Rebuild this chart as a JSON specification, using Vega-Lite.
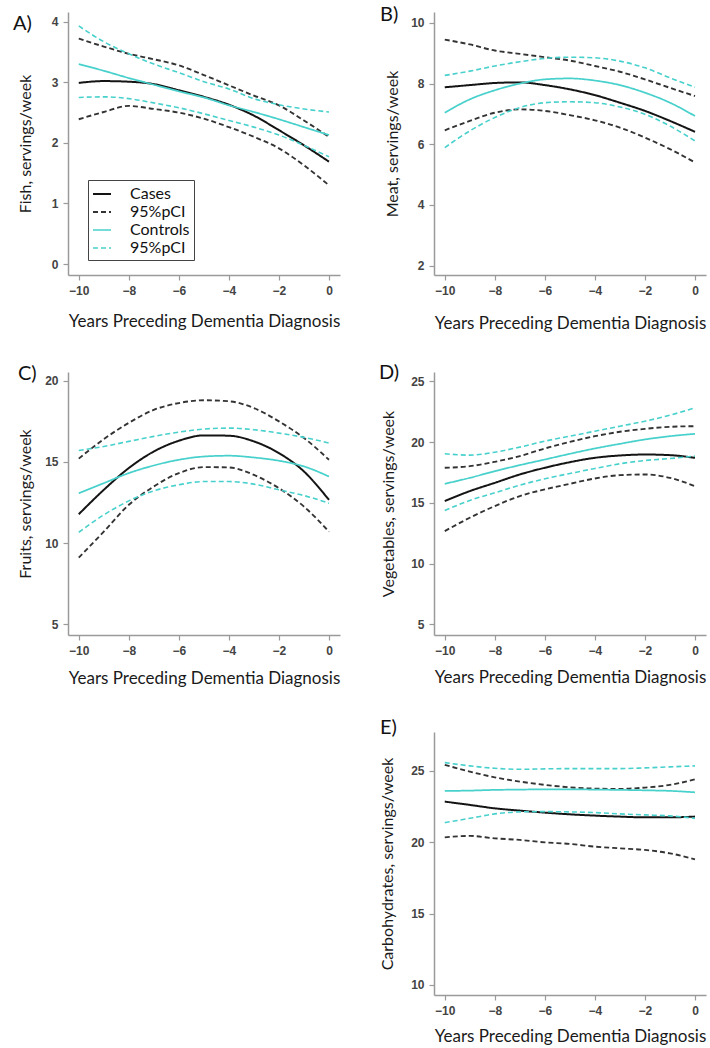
{
  "$schema": "https://vega.github.io/schema/vega-lite/v6.json",
  "background": "white",
  "padding": {"left": 13, "top": 5, "right": 5, "bottom": 5},
  "datasets": {
    "d": [
      {"p":"A","g":"Cases","b":"m","x":-10,"v":2.99},{"p":"A","g":"Cases","b":"m","x":-9,"v":3.02},{"p":"A","g":"Cases","b":"m","x":-8,"v":3.01},{"p":"A","g":"Cases","b":"m","x":-7,"v":2.97},{"p":"A","g":"Cases","b":"m","x":-6,"v":2.87},{"p":"A","g":"Cases","b":"m","x":-5,"v":2.76},{"p":"A","g":"Cases","b":"m","x":-4,"v":2.63},{"p":"A","g":"Cases","b":"m","x":-3,"v":2.45},{"p":"A","g":"Cases","b":"m","x":-2,"v":2.21},{"p":"A","g":"Cases","b":"m","x":-1,"v":1.96},{"p":"A","g":"Cases","b":"m","x":0,"v":1.69},
      {"p":"A","g":"Cases CI","b":"u","x":-10,"v":3.72},{"p":"A","g":"Cases CI","b":"u","x":-9,"v":3.59},{"p":"A","g":"Cases CI","b":"u","x":-8,"v":3.47},{"p":"A","g":"Cases CI","b":"u","x":-7,"v":3.38},{"p":"A","g":"Cases CI","b":"u","x":-6,"v":3.28},{"p":"A","g":"Cases CI","b":"u","x":-5,"v":3.12},{"p":"A","g":"Cases CI","b":"u","x":-4,"v":2.95},{"p":"A","g":"Cases CI","b":"u","x":-3,"v":2.78},{"p":"A","g":"Cases CI","b":"u","x":-2,"v":2.62},{"p":"A","g":"Cases CI","b":"u","x":-1,"v":2.37},{"p":"A","g":"Cases CI","b":"u","x":0,"v":2.1},
      {"p":"A","g":"Cases CI","b":"l","x":-10,"v":2.39},{"p":"A","g":"Cases CI","b":"l","x":-9,"v":2.51},{"p":"A","g":"Cases CI","b":"l","x":-8,"v":2.61},{"p":"A","g":"Cases CI","b":"l","x":-7,"v":2.56},{"p":"A","g":"Cases CI","b":"l","x":-6,"v":2.5},{"p":"A","g":"Cases CI","b":"l","x":-5,"v":2.4},{"p":"A","g":"Cases CI","b":"l","x":-4,"v":2.26},{"p":"A","g":"Cases CI","b":"l","x":-3,"v":2.1},{"p":"A","g":"Cases CI","b":"l","x":-2,"v":1.91},{"p":"A","g":"Cases CI","b":"l","x":-1,"v":1.63},{"p":"A","g":"Cases CI","b":"l","x":0,"v":1.3},
      {"p":"A","g":"Controls","b":"m","x":-10,"v":3.3},{"p":"A","g":"Controls","b":"m","x":-9,"v":3.19},{"p":"A","g":"Controls","b":"m","x":-8,"v":3.07},{"p":"A","g":"Controls","b":"m","x":-7,"v":2.96},{"p":"A","g":"Controls","b":"m","x":-6,"v":2.85},{"p":"A","g":"Controls","b":"m","x":-5,"v":2.75},{"p":"A","g":"Controls","b":"m","x":-4,"v":2.62},{"p":"A","g":"Controls","b":"m","x":-3,"v":2.51},{"p":"A","g":"Controls","b":"m","x":-2,"v":2.39},{"p":"A","g":"Controls","b":"m","x":-1,"v":2.26},{"p":"A","g":"Controls","b":"m","x":0,"v":2.13},
      {"p":"A","g":"Controls CI","b":"u","x":-10,"v":3.93},{"p":"A","g":"Controls CI","b":"u","x":-9,"v":3.67},{"p":"A","g":"Controls CI","b":"u","x":-8,"v":3.47},{"p":"A","g":"Controls CI","b":"u","x":-7,"v":3.3},{"p":"A","g":"Controls CI","b":"u","x":-6,"v":3.16},{"p":"A","g":"Controls CI","b":"u","x":-5,"v":3.01},{"p":"A","g":"Controls CI","b":"u","x":-4,"v":2.89},{"p":"A","g":"Controls CI","b":"u","x":-3,"v":2.73},{"p":"A","g":"Controls CI","b":"u","x":-2,"v":2.63},{"p":"A","g":"Controls CI","b":"u","x":-1,"v":2.56},{"p":"A","g":"Controls CI","b":"u","x":0,"v":2.51},
      {"p":"A","g":"Controls CI","b":"l","x":-10,"v":2.75},{"p":"A","g":"Controls CI","b":"l","x":-9,"v":2.76},{"p":"A","g":"Controls CI","b":"l","x":-8,"v":2.73},{"p":"A","g":"Controls CI","b":"l","x":-7,"v":2.66},{"p":"A","g":"Controls CI","b":"l","x":-6,"v":2.58},{"p":"A","g":"Controls CI","b":"l","x":-5,"v":2.48},{"p":"A","g":"Controls CI","b":"l","x":-4,"v":2.37},{"p":"A","g":"Controls CI","b":"l","x":-3,"v":2.26},{"p":"A","g":"Controls CI","b":"l","x":-2,"v":2.13},{"p":"A","g":"Controls CI","b":"l","x":-1,"v":1.96},{"p":"A","g":"Controls CI","b":"l","x":0,"v":1.77},

      {"p":"B","g":"Cases","b":"m","x":-10,"v":7.88},{"p":"B","g":"Cases","b":"m","x":-9,"v":7.95},{"p":"B","g":"Cases","b":"m","x":-8,"v":8.02},{"p":"B","g":"Cases","b":"m","x":-7,"v":8.04},{"p":"B","g":"Cases","b":"m","x":-6,"v":7.95},{"p":"B","g":"Cases","b":"m","x":-5,"v":7.81},{"p":"B","g":"Cases","b":"m","x":-4,"v":7.62},{"p":"B","g":"Cases","b":"m","x":-3,"v":7.37},{"p":"B","g":"Cases","b":"m","x":-2,"v":7.1},{"p":"B","g":"Cases","b":"m","x":-1,"v":6.77},{"p":"B","g":"Cases","b":"m","x":0,"v":6.41},
      {"p":"B","g":"Cases CI","b":"u","x":-10,"v":9.45},{"p":"B","g":"Cases CI","b":"u","x":-9,"v":9.29},{"p":"B","g":"Cases CI","b":"u","x":-8,"v":9.09},{"p":"B","g":"Cases CI","b":"u","x":-7,"v":8.98},{"p":"B","g":"Cases CI","b":"u","x":-6,"v":8.87},{"p":"B","g":"Cases CI","b":"u","x":-5,"v":8.76},{"p":"B","g":"Cases CI","b":"u","x":-4,"v":8.58},{"p":"B","g":"Cases CI","b":"u","x":-3,"v":8.39},{"p":"B","g":"Cases CI","b":"u","x":-2,"v":8.14},{"p":"B","g":"Cases CI","b":"u","x":-1,"v":7.86},{"p":"B","g":"Cases CI","b":"u","x":0,"v":7.59},
      {"p":"B","g":"Cases CI","b":"l","x":-10,"v":6.46},{"p":"B","g":"Cases CI","b":"l","x":-9,"v":6.77},{"p":"B","g":"Cases CI","b":"l","x":-8,"v":7.04},{"p":"B","g":"Cases CI","b":"l","x":-7,"v":7.15},{"p":"B","g":"Cases CI","b":"l","x":-6,"v":7.1},{"p":"B","g":"Cases CI","b":"l","x":-5,"v":6.96},{"p":"B","g":"Cases CI","b":"l","x":-4,"v":6.79},{"p":"B","g":"Cases CI","b":"l","x":-3,"v":6.55},{"p":"B","g":"Cases CI","b":"l","x":-2,"v":6.22},{"p":"B","g":"Cases CI","b":"l","x":-1,"v":5.84},{"p":"B","g":"Cases CI","b":"l","x":0,"v":5.4},
      {"p":"B","g":"Controls","b":"m","x":-10,"v":7.04},{"p":"B","g":"Controls","b":"m","x":-9,"v":7.48},{"p":"B","g":"Controls","b":"m","x":-8,"v":7.78},{"p":"B","g":"Controls","b":"m","x":-7,"v":8.0},{"p":"B","g":"Controls","b":"m","x":-6,"v":8.14},{"p":"B","g":"Controls","b":"m","x":-5,"v":8.17},{"p":"B","g":"Controls","b":"m","x":-4,"v":8.1},{"p":"B","g":"Controls","b":"m","x":-3,"v":7.95},{"p":"B","g":"Controls","b":"m","x":-2,"v":7.7},{"p":"B","g":"Controls","b":"m","x":-1,"v":7.37},{"p":"B","g":"Controls","b":"m","x":0,"v":6.93},
      {"p":"B","g":"Controls CI","b":"u","x":-10,"v":8.27},{"p":"B","g":"Controls CI","b":"u","x":-9,"v":8.41},{"p":"B","g":"Controls CI","b":"u","x":-8,"v":8.58},{"p":"B","g":"Controls CI","b":"u","x":-7,"v":8.72},{"p":"B","g":"Controls CI","b":"u","x":-6,"v":8.83},{"p":"B","g":"Controls CI","b":"u","x":-5,"v":8.87},{"p":"B","g":"Controls CI","b":"u","x":-4,"v":8.85},{"p":"B","g":"Controls CI","b":"u","x":-3,"v":8.74},{"p":"B","g":"Controls CI","b":"u","x":-2,"v":8.52},{"p":"B","g":"Controls CI","b":"u","x":-1,"v":8.19},{"p":"B","g":"Controls CI","b":"u","x":0,"v":7.88},
      {"p":"B","g":"Controls CI","b":"l","x":-10,"v":5.89},{"p":"B","g":"Controls CI","b":"l","x":-9,"v":6.44},{"p":"B","g":"Controls CI","b":"l","x":-8,"v":6.88},{"p":"B","g":"Controls CI","b":"l","x":-7,"v":7.21},{"p":"B","g":"Controls CI","b":"l","x":-6,"v":7.37},{"p":"B","g":"Controls CI","b":"l","x":-5,"v":7.4},{"p":"B","g":"Controls CI","b":"l","x":-4,"v":7.37},{"p":"B","g":"Controls CI","b":"l","x":-3,"v":7.23},{"p":"B","g":"Controls CI","b":"l","x":-2,"v":6.99},{"p":"B","g":"Controls CI","b":"l","x":-1,"v":6.6},{"p":"B","g":"Controls CI","b":"l","x":0,"v":6.11},

      {"p":"C","g":"Cases","b":"m","x":-10,"v":11.78},{"p":"C","g":"Cases","b":"m","x":-9,"v":13.28},{"p":"C","g":"Cases","b":"m","x":-8,"v":14.62},{"p":"C","g":"Cases","b":"m","x":-7,"v":15.64},{"p":"C","g":"Cases","b":"m","x":-6,"v":16.3},{"p":"C","g":"Cases","b":"m","x":-5,"v":16.63},{"p":"C","g":"Cases","b":"m","x":-4,"v":16.61},{"p":"C","g":"Cases","b":"m","x":-3,"v":16.26},{"p":"C","g":"Cases","b":"m","x":-2,"v":15.54},{"p":"C","g":"Cases","b":"m","x":-1,"v":14.41},{"p":"C","g":"Cases","b":"m","x":0,"v":12.66},
      {"p":"C","g":"Cases CI","b":"u","x":-10,"v":15.2},{"p":"C","g":"Cases CI","b":"u","x":-9,"v":16.4},{"p":"C","g":"Cases CI","b":"u","x":-8,"v":17.4},{"p":"C","g":"Cases CI","b":"u","x":-7,"v":18.2},{"p":"C","g":"Cases CI","b":"u","x":-6,"v":18.62},{"p":"C","g":"Cases CI","b":"u","x":-5,"v":18.79},{"p":"C","g":"Cases CI","b":"u","x":-4,"v":18.73},{"p":"C","g":"Cases CI","b":"u","x":-3,"v":18.31},{"p":"C","g":"Cases CI","b":"u","x":-2,"v":17.49},{"p":"C","g":"Cases CI","b":"u","x":-1,"v":16.47},{"p":"C","g":"Cases CI","b":"u","x":0,"v":15.13},
      {"p":"C","g":"Cases CI","b":"l","x":-10,"v":9.11},{"p":"C","g":"Cases CI","b":"l","x":-9,"v":10.71},{"p":"C","g":"Cases CI","b":"l","x":-8,"v":12.36},{"p":"C","g":"Cases CI","b":"l","x":-7,"v":13.49},{"p":"C","g":"Cases CI","b":"l","x":-6,"v":14.31},{"p":"C","g":"Cases CI","b":"l","x":-5,"v":14.68},{"p":"C","g":"Cases CI","b":"l","x":-4,"v":14.66},{"p":"C","g":"Cases CI","b":"l","x":-3,"v":14.2},{"p":"C","g":"Cases CI","b":"l","x":-2,"v":13.38},{"p":"C","g":"Cases CI","b":"l","x":-1,"v":12.25},{"p":"C","g":"Cases CI","b":"l","x":0,"v":10.71},
      {"p":"C","g":"Controls","b":"m","x":-10,"v":13.07},{"p":"C","g":"Controls","b":"m","x":-9,"v":13.69},{"p":"C","g":"Controls","b":"m","x":-8,"v":14.31},{"p":"C","g":"Controls","b":"m","x":-7,"v":14.78},{"p":"C","g":"Controls","b":"m","x":-6,"v":15.13},{"p":"C","g":"Controls","b":"m","x":-5,"v":15.33},{"p":"C","g":"Controls","b":"m","x":-4,"v":15.38},{"p":"C","g":"Controls","b":"m","x":-3,"v":15.27},{"p":"C","g":"Controls","b":"m","x":-2,"v":15.07},{"p":"C","g":"Controls","b":"m","x":-1,"v":14.72},{"p":"C","g":"Controls","b":"m","x":0,"v":14.1},
      {"p":"C","g":"Controls CI","b":"u","x":-10,"v":15.7},{"p":"C","g":"Controls CI","b":"u","x":-9,"v":15.95},{"p":"C","g":"Controls CI","b":"u","x":-8,"v":16.26},{"p":"C","g":"Controls CI","b":"u","x":-7,"v":16.57},{"p":"C","g":"Controls CI","b":"u","x":-6,"v":16.83},{"p":"C","g":"Controls CI","b":"u","x":-5,"v":17.02},{"p":"C","g":"Controls CI","b":"u","x":-4,"v":17.08},{"p":"C","g":"Controls CI","b":"u","x":-3,"v":16.98},{"p":"C","g":"Controls CI","b":"u","x":-2,"v":16.77},{"p":"C","g":"Controls CI","b":"u","x":-1,"v":16.51},{"p":"C","g":"Controls CI","b":"u","x":0,"v":16.16},
      {"p":"C","g":"Controls CI","b":"l","x":-10,"v":10.67},{"p":"C","g":"Controls CI","b":"l","x":-9,"v":11.74},{"p":"C","g":"Controls CI","b":"l","x":-8,"v":12.6},{"p":"C","g":"Controls CI","b":"l","x":-7,"v":13.22},{"p":"C","g":"Controls CI","b":"l","x":-6,"v":13.59},{"p":"C","g":"Controls CI","b":"l","x":-5,"v":13.79},{"p":"C","g":"Controls CI","b":"l","x":-4,"v":13.79},{"p":"C","g":"Controls CI","b":"l","x":-3,"v":13.63},{"p":"C","g":"Controls CI","b":"l","x":-2,"v":13.28},{"p":"C","g":"Controls CI","b":"l","x":-1,"v":12.93},{"p":"C","g":"Controls CI","b":"l","x":0,"v":12.46},

      {"p":"D","g":"Cases","b":"m","x":-10,"v":15.14},{"p":"D","g":"Cases","b":"m","x":-9,"v":15.96},{"p":"D","g":"Cases","b":"m","x":-8,"v":16.64},{"p":"D","g":"Cases","b":"m","x":-7,"v":17.33},{"p":"D","g":"Cases","b":"m","x":-6,"v":17.88},{"p":"D","g":"Cases","b":"m","x":-5,"v":18.34},{"p":"D","g":"Cases","b":"m","x":-4,"v":18.7},{"p":"D","g":"Cases","b":"m","x":-3,"v":18.89},{"p":"D","g":"Cases","b":"m","x":-2,"v":18.97},{"p":"D","g":"Cases","b":"m","x":-1,"v":18.92},{"p":"D","g":"Cases","b":"m","x":0,"v":18.7},
      {"p":"D","g":"Cases CI","b":"u","x":-10,"v":17.88},{"p":"D","g":"Cases CI","b":"u","x":-9,"v":18.01},{"p":"D","g":"Cases CI","b":"u","x":-8,"v":18.37},{"p":"D","g":"Cases CI","b":"u","x":-7,"v":18.84},{"p":"D","g":"Cases CI","b":"u","x":-6,"v":19.47},{"p":"D","g":"Cases CI","b":"u","x":-5,"v":20.01},{"p":"D","g":"Cases CI","b":"u","x":-4,"v":20.48},{"p":"D","g":"Cases CI","b":"u","x":-3,"v":20.84},{"p":"D","g":"Cases CI","b":"u","x":-2,"v":21.08},{"p":"D","g":"Cases CI","b":"u","x":-1,"v":21.25},{"p":"D","g":"Cases CI","b":"u","x":0,"v":21.3},
      {"p":"D","g":"Cases CI","b":"l","x":-10,"v":12.67},{"p":"D","g":"Cases CI","b":"l","x":-9,"v":13.77},{"p":"D","g":"Cases CI","b":"l","x":-8,"v":14.73},{"p":"D","g":"Cases CI","b":"l","x":-7,"v":15.55},{"p":"D","g":"Cases CI","b":"l","x":-6,"v":16.1},{"p":"D","g":"Cases CI","b":"l","x":-5,"v":16.56},{"p":"D","g":"Cases CI","b":"l","x":-4,"v":17.0},{"p":"D","g":"Cases CI","b":"l","x":-3,"v":17.27},{"p":"D","g":"Cases CI","b":"l","x":-2,"v":17.33},{"p":"D","g":"Cases CI","b":"l","x":-1,"v":17.05},{"p":"D","g":"Cases CI","b":"l","x":0,"v":16.37},
      {"p":"D","g":"Controls","b":"m","x":-10,"v":16.56},{"p":"D","g":"Controls","b":"m","x":-9,"v":17.05},{"p":"D","g":"Controls","b":"m","x":-8,"v":17.6},{"p":"D","g":"Controls","b":"m","x":-7,"v":18.1},{"p":"D","g":"Controls","b":"m","x":-6,"v":18.56},{"p":"D","g":"Controls","b":"m","x":-5,"v":19.03},{"p":"D","g":"Controls","b":"m","x":-4,"v":19.47},{"p":"D","g":"Controls","b":"m","x":-3,"v":19.85},{"p":"D","g":"Controls","b":"m","x":-2,"v":20.21},{"p":"D","g":"Controls","b":"m","x":-1,"v":20.48},{"p":"D","g":"Controls","b":"m","x":0,"v":20.67},
      {"p":"D","g":"Controls CI","b":"u","x":-10,"v":19.03},{"p":"D","g":"Controls CI","b":"u","x":-9,"v":18.92},{"p":"D","g":"Controls CI","b":"u","x":-8,"v":19.16},{"p":"D","g":"Controls CI","b":"u","x":-7,"v":19.58},{"p":"D","g":"Controls CI","b":"u","x":-6,"v":20.07},{"p":"D","g":"Controls CI","b":"u","x":-5,"v":20.48},{"p":"D","g":"Controls CI","b":"u","x":-4,"v":20.89},{"p":"D","g":"Controls CI","b":"u","x":-3,"v":21.3},{"p":"D","g":"Controls CI","b":"u","x":-2,"v":21.71},{"p":"D","g":"Controls CI","b":"u","x":-1,"v":22.21},{"p":"D","g":"Controls CI","b":"u","x":0,"v":22.81},
      {"p":"D","g":"Controls CI","b":"l","x":-10,"v":14.37},{"p":"D","g":"Controls CI","b":"l","x":-9,"v":15.19},{"p":"D","g":"Controls CI","b":"l","x":-8,"v":15.82},{"p":"D","g":"Controls CI","b":"l","x":-7,"v":16.45},{"p":"D","g":"Controls CI","b":"l","x":-6,"v":16.97},{"p":"D","g":"Controls CI","b":"l","x":-5,"v":17.41},{"p":"D","g":"Controls CI","b":"l","x":-4,"v":17.82},{"p":"D","g":"Controls CI","b":"l","x":-3,"v":18.21},{"p":"D","g":"Controls CI","b":"l","x":-2,"v":18.48},{"p":"D","g":"Controls CI","b":"l","x":-1,"v":18.64},{"p":"D","g":"Controls CI","b":"l","x":0,"v":18.84},

      {"p":"E","g":"Cases","b":"m","x":-10,"v":22.83},{"p":"E","g":"Cases","b":"m","x":-9,"v":22.6},{"p":"E","g":"Cases","b":"m","x":-8,"v":22.36},{"p":"E","g":"Cases","b":"m","x":-7,"v":22.2},{"p":"E","g":"Cases","b":"m","x":-6,"v":22.06},{"p":"E","g":"Cases","b":"m","x":-5,"v":21.94},{"p":"E","g":"Cases","b":"m","x":-4,"v":21.85},{"p":"E","g":"Cases","b":"m","x":-3,"v":21.78},{"p":"E","g":"Cases","b":"m","x":-2,"v":21.73},{"p":"E","g":"Cases","b":"m","x":-1,"v":21.73},{"p":"E","g":"Cases","b":"m","x":0,"v":21.78},
      {"p":"E","g":"Cases CI","b":"u","x":-10,"v":25.4},{"p":"E","g":"Cases CI","b":"u","x":-9,"v":24.93},{"p":"E","g":"Cases CI","b":"u","x":-8,"v":24.53},{"p":"E","g":"Cases CI","b":"u","x":-7,"v":24.23},{"p":"E","g":"Cases CI","b":"u","x":-6,"v":24.0},{"p":"E","g":"Cases CI","b":"u","x":-5,"v":23.83},{"p":"E","g":"Cases CI","b":"u","x":-4,"v":23.74},{"p":"E","g":"Cases CI","b":"u","x":-3,"v":23.72},{"p":"E","g":"Cases CI","b":"u","x":-2,"v":23.81},{"p":"E","g":"Cases CI","b":"u","x":-1,"v":24.0},{"p":"E","g":"Cases CI","b":"u","x":0,"v":24.39},
      {"p":"E","g":"Cases CI","b":"l","x":-10,"v":20.33},{"p":"E","g":"Cases CI","b":"l","x":-9,"v":20.43},{"p":"E","g":"Cases CI","b":"l","x":-8,"v":20.26},{"p":"E","g":"Cases CI","b":"l","x":-7,"v":20.15},{"p":"E","g":"Cases CI","b":"l","x":-6,"v":19.98},{"p":"E","g":"Cases CI","b":"l","x":-5,"v":19.87},{"p":"E","g":"Cases CI","b":"l","x":-4,"v":19.68},{"p":"E","g":"Cases CI","b":"l","x":-3,"v":19.56},{"p":"E","g":"Cases CI","b":"l","x":-2,"v":19.45},{"p":"E","g":"Cases CI","b":"l","x":-1,"v":19.21},{"p":"E","g":"Cases CI","b":"l","x":0,"v":18.79},
      {"p":"E","g":"Controls","b":"m","x":-10,"v":23.58},{"p":"E","g":"Controls","b":"m","x":-9,"v":23.6},{"p":"E","g":"Controls","b":"m","x":-8,"v":23.65},{"p":"E","g":"Controls","b":"m","x":-7,"v":23.67},{"p":"E","g":"Controls","b":"m","x":-6,"v":23.69},{"p":"E","g":"Controls","b":"m","x":-5,"v":23.69},{"p":"E","g":"Controls","b":"m","x":-4,"v":23.67},{"p":"E","g":"Controls","b":"m","x":-3,"v":23.65},{"p":"E","g":"Controls","b":"m","x":-2,"v":23.62},{"p":"E","g":"Controls","b":"m","x":-1,"v":23.58},{"p":"E","g":"Controls","b":"m","x":0,"v":23.48},
      {"p":"E","g":"Controls CI","b":"u","x":-10,"v":25.56},{"p":"E","g":"Controls CI","b":"u","x":-9,"v":25.33},{"p":"E","g":"Controls CI","b":"u","x":-8,"v":25.16},{"p":"E","g":"Controls CI","b":"u","x":-7,"v":25.09},{"p":"E","g":"Controls CI","b":"u","x":-6,"v":25.12},{"p":"E","g":"Controls CI","b":"u","x":-5,"v":25.14},{"p":"E","g":"Controls CI","b":"u","x":-4,"v":25.14},{"p":"E","g":"Controls CI","b":"u","x":-3,"v":25.14},{"p":"E","g":"Controls CI","b":"u","x":-2,"v":25.19},{"p":"E","g":"Controls CI","b":"u","x":-1,"v":25.26},{"p":"E","g":"Controls CI","b":"u","x":0,"v":25.33},
      {"p":"E","g":"Controls CI","b":"l","x":-10,"v":21.36},{"p":"E","g":"Controls CI","b":"l","x":-9,"v":21.66},{"p":"E","g":"Controls CI","b":"l","x":-8,"v":21.97},{"p":"E","g":"Controls CI","b":"l","x":-7,"v":22.11},{"p":"E","g":"Controls CI","b":"l","x":-6,"v":22.13},{"p":"E","g":"Controls CI","b":"l","x":-5,"v":22.11},{"p":"E","g":"Controls CI","b":"l","x":-4,"v":22.06},{"p":"E","g":"Controls CI","b":"l","x":-3,"v":21.97},{"p":"E","g":"Controls CI","b":"l","x":-2,"v":21.9},{"p":"E","g":"Controls CI","b":"l","x":-1,"v":21.83},{"p":"E","g":"Controls CI","b":"l","x":0,"v":21.66}
    ]
  },
  "data": {"name": "d"},
  "columns": 2,
  "bounds": "flush",
  "spacing": {"column": 94, "row": 97},
  "resolve": {
    "scale": {"color": "independent", "strokeDash": "independent", "strokeWidth": "independent"},
    "legend": {"color": "independent", "strokeDash": "independent", "strokeWidth": "independent"}
  },
  "concat": [
    {
      "width": 272, "height": 263,
      "title": {"text": "A)", "dx": -55, "dy": 26},
      "transform": [{"filter": "datum.p === 'A'"}],
      "mark": {"type": "line", "interpolate": "monotone"},
      "encoding": {
        "x": {"field": "x", "type": "quantitative", "scale": {"domain": [-10.43, 0.44], "nice": false, "zero": false}, "axis": {"values": [-10, -8, -6, -4, -2, 0], "title": "Years Preceding Dementia Diagnosis", "titlePadding": 17}},
        "y": {"field": "v", "type": "quantitative", "scale": {"domain": [-0.18, 4.16], "nice": false, "zero": false}, "axis": {"values": [0, 1, 2, 3, 4], "title": "Fish, servings/week", "titlePadding": 18}},
        "color": {"field": "g", "type": "nominal", "scale": {"domain": ["Cases", "Cases CI", "Controls", "Controls CI"], "range": ["#141414", "#333333", "#48d1cc", "#48d1cc"]},
          "legend": {"orient": "none", "legendX": 20, "legendY": 168, "title": null, "labelExpr": "indexof(datum.label, 'CI') >= 0 ? '95%pCI' : datum.label"}},
        "strokeDash": {"field": "g", "type": "nominal", "scale": {"domain": ["Cases", "Cases CI", "Controls", "Controls CI"], "range": [[1, 0], [5, 3], [1, 0], [5, 3]]},
          "legend": {"orient": "none", "legendX": 20, "legendY": 168, "title": null, "labelExpr": "indexof(datum.label, 'CI') >= 0 ? '95%pCI' : datum.label"}},
        "strokeWidth": {"field": "g", "type": "nominal", "scale": {"domain": ["Cases", "Cases CI", "Controls", "Controls CI"], "range": [2, 1.6, 2, 1.6]}, "legend": null},
        "detail": {"field": "b"}
      }
    },
    {
      "width": 272, "height": 263,
      "title": {"text": "B)", "dx": -54, "dy": 17},
      "transform": [{"filter": "datum.p === 'B'"}],
      "mark": {"type": "line", "interpolate": "monotone"},
      "encoding": {
        "x": {"field": "x", "type": "quantitative", "scale": {"domain": [-10.43, 0.44], "nice": false, "zero": false}, "axis": {"values": [-10, -8, -6, -4, -2, 0], "title": "Years Preceding Dementia Diagnosis", "titlePadding": 19}},
        "y": {"field": "v", "type": "quantitative", "scale": {"domain": [1.69, 10.36], "nice": false, "zero": false}, "axis": {"values": [2, 4, 6, 8, 10], "title": "Meat, servings/week", "titlePadding": 10}},
        "color": {"field": "g", "type": "nominal", "scale": {"domain": ["Cases", "Cases CI", "Controls", "Controls CI"], "range": ["#141414", "#333333", "#48d1cc", "#48d1cc"]}, "legend": null},
        "strokeDash": {"field": "g", "type": "nominal", "scale": {"domain": ["Cases", "Cases CI", "Controls", "Controls CI"], "range": [[1, 0], [5, 3], [1, 0], [5, 3]]}, "legend": null},
        "strokeWidth": {"field": "g", "type": "nominal", "scale": {"domain": ["Cases", "Cases CI", "Controls", "Controls CI"], "range": [2, 1.6, 2, 1.6]}, "legend": null},
        "detail": {"field": "b"}
      }
    },
    {
      "width": 272, "height": 263,
      "title": {"text": "C)", "dx": -50, "dy": 16},
      "transform": [{"filter": "datum.p === 'C'"}],
      "mark": {"type": "line", "interpolate": "monotone"},
      "encoding": {
        "x": {"field": "x", "type": "quantitative", "scale": {"domain": [-10.43, 0.44], "nice": false, "zero": false}, "axis": {"values": [-10, -8, -6, -4, -2, 0], "title": "Years Preceding Dementia Diagnosis", "titlePadding": 14}},
        "y": {"field": "v", "type": "quantitative", "scale": {"domain": [4.35, 20.53], "nice": false, "zero": false}, "axis": {"values": [5, 10, 15, 20], "title": "Fruits, servings/week", "titlePadding": 11}},
        "color": {"field": "g", "type": "nominal", "scale": {"domain": ["Cases", "Cases CI", "Controls", "Controls CI"], "range": ["#141414", "#333333", "#48d1cc", "#48d1cc"]}, "legend": null},
        "strokeDash": {"field": "g", "type": "nominal", "scale": {"domain": ["Cases", "Cases CI", "Controls", "Controls CI"], "range": [[1, 0], [5, 3], [1, 0], [5, 3]]}, "legend": null},
        "strokeWidth": {"field": "g", "type": "nominal", "scale": {"domain": ["Cases", "Cases CI", "Controls", "Controls CI"], "range": [2, 1.6, 2, 1.6]}, "legend": null},
        "detail": {"field": "b"}
      }
    },
    {
      "width": 272, "height": 263,
      "title": {"text": "D)", "dx": -55, "dy": 15},
      "transform": [{"filter": "datum.p === 'D'"}],
      "mark": {"type": "line", "interpolate": "monotone"},
      "encoding": {
        "x": {"field": "x", "type": "quantitative", "scale": {"domain": [-10.43, 0.44], "nice": false, "zero": false}, "axis": {"values": [-10, -8, -6, -4, -2, 0], "title": "Years Preceding Dementia Diagnosis", "titlePadding": 13}},
        "y": {"field": "v", "type": "quantitative", "scale": {"domain": [4.12, 25.76], "nice": false, "zero": false}, "axis": {"values": [5, 10, 15, 20, 25], "title": "Vegetables, servings/week", "titlePadding": 14}},
        "color": {"field": "g", "type": "nominal", "scale": {"domain": ["Cases", "Cases CI", "Controls", "Controls CI"], "range": ["#141414", "#333333", "#48d1cc", "#48d1cc"]}, "legend": null},
        "strokeDash": {"field": "g", "type": "nominal", "scale": {"domain": ["Cases", "Cases CI", "Controls", "Controls CI"], "range": [[1, 0], [5, 3], [1, 0], [5, 3]]}, "legend": null},
        "strokeWidth": {"field": "g", "type": "nominal", "scale": {"domain": ["Cases", "Cases CI", "Controls", "Controls CI"], "range": [2, 1.6, 2, 1.6]}, "legend": null},
        "detail": {"field": "b"}
      }
    },
    {
      "width": 272, "height": 263,
      "data": {"values": []},
      "mark": {"type": "point", "opacity": 0},
      "encoding": {}
    },
    {
      "width": 272, "height": 263,
      "title": {"text": "E)", "dx": -54, "dy": 10},
      "transform": [{"filter": "datum.p === 'E'"}],
      "mark": {"type": "line", "interpolate": "monotone"},
      "encoding": {
        "x": {"field": "x", "type": "quantitative", "scale": {"domain": [-10.43, 0.44], "nice": false, "zero": false}, "axis": {"values": [-10, -8, -6, -4, -2, 0], "title": "Years Preceding Dementia Diagnosis", "titlePadding": 12}},
        "y": {"field": "v", "type": "quantitative", "scale": {"domain": [9.3, 27.7], "nice": false, "zero": false}, "axis": {"values": [10, 15, 20, 25], "title": "Carbohydrates, servings/week", "titlePadding": 15}},
        "color": {"field": "g", "type": "nominal", "scale": {"domain": ["Cases", "Cases CI", "Controls", "Controls CI"], "range": ["#141414", "#333333", "#48d1cc", "#48d1cc"]}, "legend": null},
        "strokeDash": {"field": "g", "type": "nominal", "scale": {"domain": ["Cases", "Cases CI", "Controls", "Controls CI"], "range": [[1, 0], [5, 3], [1, 0], [5, 3]]}, "legend": null},
        "strokeWidth": {"field": "g", "type": "nominal", "scale": {"domain": ["Cases", "Cases CI", "Controls", "Controls CI"], "range": [2, 1.6, 2, 1.6]}, "legend": null},
        "detail": {"field": "b"}
      }
    }
  ],
  "config": {
    "view": {"stroke": null},
    "font": "Lato",
    "title": {"anchor": "start", "frame": "group", "font": "Lato", "fontSize": 20, "fontWeight": "normal", "color": "#111111", "baseline": "alphabetic", "offset": 0},
    "axis": {"grid": false, "domainColor": "#9a9a9a", "domainWidth": 1.5, "tickColor": "#9a9a9a", "tickSize": 5, "tickWidth": 1.2, "labelFont": "Liberation Sans", "labelFontWeight": "bold", "labelFontSize": 12, "labelColor": "#444444", "labelPadding": 5, "titleFont": "Lato", "titleFontWeight": "normal", "titleColor": "#1a1a1a"},
    "axisX": {"titleFontSize": 17},
    "axisY": {"titleFontSize": 16},
    "legend": {"strokeColor": "#444444", "fillColor": "white", "padding": 4, "symbolType": "stroke", "symbolSize": 324, "symbolStrokeWidth": 2, "labelFont": "Lato", "labelFontSize": 16, "labelColor": "#111111", "labelOffset": 18, "rowPadding": 0, "symbolOffset": 0}
  }
}
